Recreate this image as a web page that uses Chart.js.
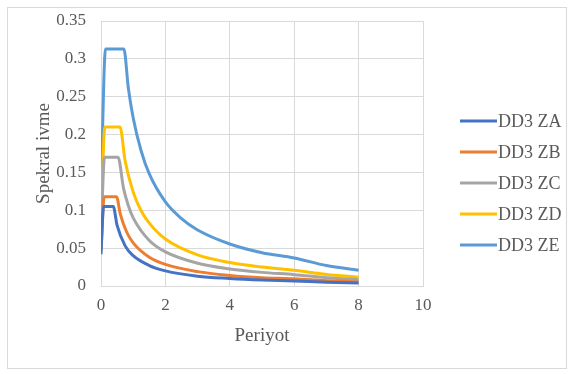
<!DOCTYPE html>
<html>
<head>
<meta charset="utf-8">
<script src="https://cdn.jsdelivr.net/npm/chart.js@4.4.0/dist/chart.umd.min.js"></script>
<style>
  body { margin: 0; background: #fff; }
  #kutu { position: absolute; left: 7px; top: 7px; width: 558px; height: 360px; border: 1px solid #d9d9d9; }
  #grafikSpektrum { position: absolute; left: 0; top: 0; }
</style>
</head>
<body>
<div id="kutu"></div>
<canvas id="grafikSpektrum" width="574" height="374"></canvas>
<script>
// Periyot (s) ve spektral ivme degerleri
const periyotZA = [0, 0.08, 0.38, 0.5, 0.75, 1, 1.5, 2, 3, 4, 5, 6, 7, 8];
const ivmeZA    = [0.042, 0.105, 0.105, 0.08, 0.053, 0.04, 0.027, 0.02, 0.013, 0.01, 0.008, 0.0067, 0.0049, 0.0038];

const periyotZB = [0, 0.1, 0.48, 0.6, 0.8, 1, 1.5, 2, 3, 4, 5, 6, 7, 8];
const ivmeZB    = [0.047, 0.118, 0.118, 0.095, 0.071, 0.057, 0.038, 0.0285, 0.019, 0.014, 0.011, 0.0095, 0.007, 0.0053];

const periyotZC = [0, 0.11, 0.53, 0.7, 0.85, 1, 1.5, 2, 3, 4, 5, 6, 7, 8];
const ivmeZC    = [0.068, 0.17, 0.17, 0.129, 0.106, 0.09, 0.06, 0.045, 0.03, 0.0225, 0.018, 0.015, 0.011, 0.0084];

const periyotZD = [0, 0.12, 0.59, 0.75, 1, 1.25, 1.5, 2, 3, 4, 5, 6, 7, 8];
const ivmeZD    = [0.084, 0.21, 0.21, 0.165, 0.124, 0.099, 0.083, 0.062, 0.041, 0.031, 0.025, 0.0207, 0.0152, 0.0116];

const periyotZE = [0, 0.14, 0.71, 0.85, 1, 1.25, 1.5, 2, 2.5, 3, 4, 5, 6, 7, 8];
const ivmeZE    = [0.125, 0.313, 0.313, 0.261, 0.222, 0.178, 0.148, 0.111, 0.089, 0.074, 0.0555, 0.044, 0.037, 0.027, 0.0208];

const seriler = [
    { ad: "DD3 ZA", x: periyotZA, y: ivmeZA, renk: "#4472C4" },
    { ad: "DD3 ZB", x: periyotZB, y: ivmeZB, renk: "#ED7D31" },
    { ad: "DD3 ZC", x: periyotZC, y: ivmeZC, renk: "#A5A5A5" },
    { ad: "DD3 ZD", x: periyotZD, y: ivmeZD, renk: "#FFC000" },
    { ad: "DD3 ZE", x: periyotZE, y: ivmeZE, renk: "#5B9BD5" }
];

function noktalar(xs, ys){
    let liste = [];
    for(let i = 0; i < xs.length; i++){
        liste.push({ x: xs[i], y: ys[i] });
    }
    return liste;
}

const yaziRengi = "#595959";
const cizgiRengi = "#d9d9d9";
const yaziTipi = "'Liberation Serif', 'Times New Roman', serif";

// sag taraftaki aciklama (Excel gibi cizgi + yazi)
const aciklama = {
    id: "aciklama",
    afterDraw(chart){
        const ctx = chart.ctx;
        ctx.save();
        ctx.font = "18px " + yaziTipi;
        ctx.textBaseline = "middle";
        ctx.fillStyle = yaziRengi;
        chart.data.datasets.forEach((ds, i) => {
            let y = 121 + i * 31;
            ctx.strokeStyle = ds.borderColor;
            ctx.lineWidth = 3;
            ctx.beginPath();
            ctx.moveTo(460, y);
            ctx.lineTo(497, y);
            ctx.stroke();
            ctx.fillText(ds.label, 498, y + 1);
        });
        ctx.restore();
    }
};

new Chart(document.getElementById("grafikSpektrum"), {
    type: "scatter",
    data: {
        datasets: seriler.map(s => ({
            label: s.ad,
            data: noktalar(s.x, s.y),
            showLine: true,
            borderColor: s.renk,
            backgroundColor: s.renk,
            borderWidth: 3,
            pointRadius: 0,
            cubicInterpolationMode: "monotone"
        }))
    },
    plugins: [aciklama],
    options: {
        responsive: false,
        animation: false,
        layout: { padding: { left: 29, right: 151, top: 21, bottom: 23 } },
        plugins: {
            legend: { display: false },
            tooltip: { enabled: false }
        },
        scales: {
            x: {
                min: 0,
                max: 10,
                afterFit: s => { s.height = 65; s.paddingLeft = 0; s.paddingRight = 0; },
                ticks: { stepSize: 2, autoSkip: false, maxRotation: 0, padding: 9, color: yaziRengi, font: { family: yaziTipi, size: 17 } },
                grid: { color: cizgiRengi, drawTicks: false },
                border: { color: cizgiRengi },
                title: { display: true, text: "Periyot", color: yaziRengi, font: { family: yaziTipi, size: 19 } }
            },
            y: {
                min: 0,
                max: 0.35,
                afterFit: s => { s.width = 72; s.paddingTop = 0; s.paddingBottom = 0; },
                ticks: {
                    stepSize: 0.05,
                    autoSkip: false,
                    color: yaziRengi,
                    padding: 15,
                    font: { family: yaziTipi, size: 17 },
                    callback: v => String(Math.round(v * 100) / 100)
                },
                grid: { color: cizgiRengi, drawTicks: false },
                border: { color: cizgiRengi },
                title: { display: true, text: "Spekral ivme", color: yaziRengi, font: { family: yaziTipi, size: 19 } }
            }
        }
    }
});
</script>
</body>
</html>
